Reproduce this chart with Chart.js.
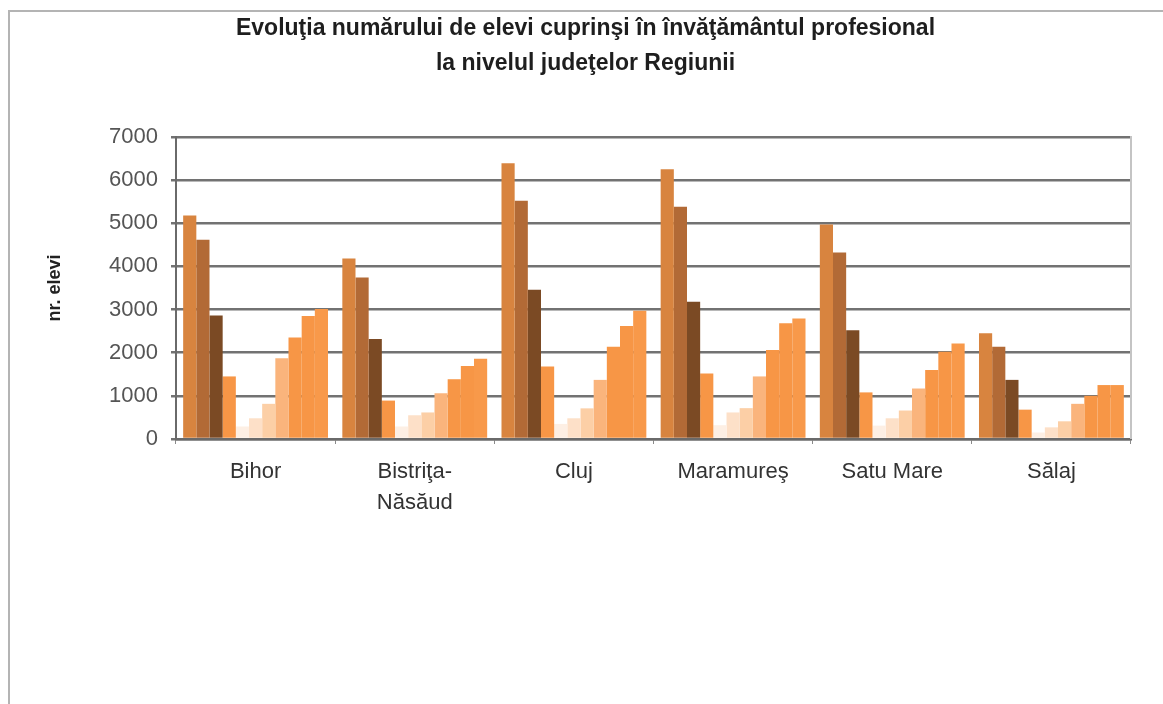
<!DOCTYPE html>
<html>
<head>
<meta charset="utf-8">
<script src="https://cdn.jsdelivr.net/npm/chart.js@4/dist/chart.umd.min.js"></script>
<style>
  html, body { margin: 0; padding: 0; background: #fff; overflow: hidden; }
  #frame { position: absolute; left: 8px; top: 10px; width: 1160px; height: 700px;
           border-top: 2px solid #b4b4b4; border-left: 2px solid #b4b4b4; }
  #wrap { position: absolute; left: 0; top: 0; width: 1163px; height: 704px; }
</style>
</head>
<body>
<div id="frame"></div>
<div id="wrap"><canvas id="myChart" width="1163" height="704"></canvas></div>
<script>
const ctx = document.querySelector('#myChart').getContext('2d');

// judete (categories)
const labels = ['Bihor', ['Bistriţa-', 'Năsăud'], 'Cluj', 'Maramureş', 'Satu Mare', 'Sălaj'];

// y ticks
const yTicks = [0, 1000, 2000, 3000, 4000, 5000, 6000, 7000];

// one array per bar in each group, left to right (Bihor, Bistrita, Cluj, Maramures, Satu Mare, Salaj)
const serie1  = [5180, 4180, 6390, 6250, 4970, 2450];
const serie2  = [4620, 3740, 5520, 5380, 4320, 2140];
const serie3  = [2860, 2320, 3460, 3180, 2520, 1370];
const serie4  = [1450,  890, 1680, 1520, 1080,  680];
const serie5  = [ 290,  290,  350,  320,  310,  150];
const serie6  = [ 480,  550,  480,  615,  480,  270];
const serie7  = [ 815,  615,  710,  715,  660,  410];
const serie8  = [1870, 1060, 1370, 1450, 1170,  815];
const serie9  = [2350, 1385, 2140, 2060, 1600, 1000];
const serie10 = [2850, 1690, 2620, 2680, 2020, 1250];
const serie11 = [3010, 1860, 2970, 2790, 2215, 1250];

const series = [serie1, serie2, serie3, serie4, serie5, serie6, serie7, serie8, serie9, serie10, serie11];
const colors = ['#d8843f', '#b26a36', '#7b4a24', '#f79646', '#fdefe4', '#fde0c8',
                '#fccfa6', '#fab47c', '#f79646', '#f79646', '#f8994a'];

const data = {
    labels,
    datasets: series.map((s, i) => ({
        label: 'Seria ' + (i + 1),
        data: s,
        backgroundColor: colors[i],
        borderWidth: 0,
        categoryPercentage: 0.91,
        barPercentage: 1.0
    }))
};

// light border on the right side of the plot
const rightBorder = {
    id: 'rightBorder',
    afterDraw(chart) {
        const a = chart.chartArea;
        const c = chart.ctx;
        c.save();
        c.strokeStyle = '#c4c4c4';
        c.lineWidth = 2;
        c.beginPath();
        c.moveTo(a.right, a.top - 1);
        c.lineTo(a.right, a.bottom);
        c.stroke();
        c.restore();
    }
};

const config = {
    type: 'bar',
    data: data,
    plugins: [rightBorder],
    options: {
        responsive: false,
        animation: false,
        layout: { padding: { left: 40, right: 32, top: 0, bottom: 0 } },
        plugins: {
            legend: { display: false },
            tooltip: { enabled: false },
            title: {
                display: true,
                text: ['Evoluţia numărului de elevi cuprinşi în învăţământul profesional',
                       'la nivelul judeţelor Regiunii'],
                color: '#1e1e1e',
                font: { family: "'Liberation Sans', Arial, sans-serif", size: 23, weight: 'bold', lineHeight: 1.52 },
                padding: { top: 11, bottom: 56 }
            }
        },
        scales: {
            x: {
                grid: { display: true, drawOnChartArea: false, drawTicks: true, tickLength: 5, color: '#8a8a8a', offset: true },
                border: { color: '#6a6a6a', width: 2.5 },
                ticks: {
                    color: '#333',
                    padding: 13,
                    maxRotation: 0,
                    autoSkip: false,
                    font: { family: "'Liberation Sans', Arial, sans-serif", size: 22, lineHeight: 1.4 }
                },
                afterFit: (scale) => { scale.height = 704 - 439; }
            },
            y: {
                min: 0,
                max: 7000,
                afterBuildTicks: (scale) => { scale.ticks = yTicks.map(v => ({ value: v })); },
                grid: { color: '#727272', lineWidth: 2.5, tickLength: 5 },
                border: { color: '#6a6a6a', width: 2 },
                ticks: {
                    color: '#555',
                    padding: 13,
                    font: { family: "'Liberation Sans', Arial, sans-serif", size: 22 },
                    callback: (value) => String(value)
                },
                title: {
                    display: true,
                    text: 'nr. elevi',
                    color: '#222',
                    padding: 4,
                    font: { family: "'Liberation Sans', Arial, sans-serif", size: 18, weight: 'bold' }
                },
                afterFit: (scale) => { scale.width = 136; }
            }
        }
    }
};

const myChart = new Chart(ctx, config);
</script>
</body>
</html>
